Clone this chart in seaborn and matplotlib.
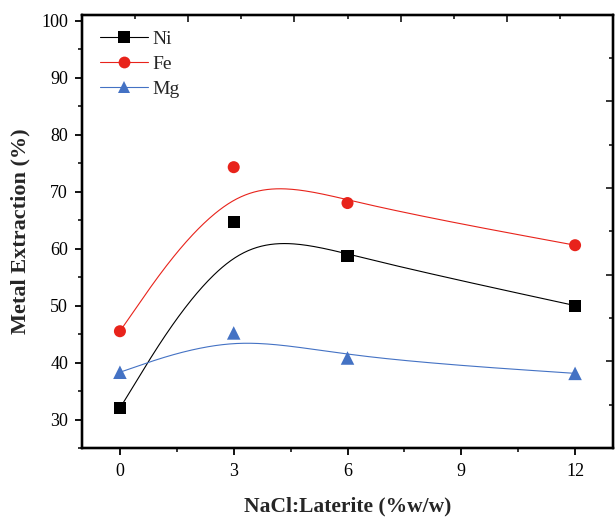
import numpy as np
import pandas as pd
import matplotlib
matplotlib.use("Agg")
import matplotlib.pyplot as plt
from matplotlib.ticker import MultipleLocator, NullFormatter
from matplotlib.lines import Line2D
import seaborn as sns

# ---- data ----
nacl = [0, 3, 6, 12]
ni = [32.0, 64.7, 58.7, 50.0]
fe = [45.5, 74.3, 68.0, 60.6]
mg = [38.3, 45.2, 40.8, 38.1]
series_names = ["Ni", "Fe", "Mg"]
colors = {"Ni": "#000000", "Fe": "#E8231B", "Mg": "#4472C4"}
markers = {"Ni": "s", "Fe": "o", "Mg": "^"}
x_ticks = [0, 3, 6, 9, 12]
y_ticks = [30, 40, 50, 60, 70, 80, 90, 100]

sns.set_theme(style="ticks")
plt.rcParams["font.family"] = ["Liberation Serif", "DejaVu Serif"]


def bspline_curve(xs, ys, n=80):
    """Uniform cubic B-spline with the data points as control points
    (end points tripled so the curve starts/ends on them)."""
    P = np.column_stack([xs, ys]).astype(float)
    ctrl = np.vstack([P[:1], P[:1], P, P[-1:], P[-1:]])
    t = np.linspace(0, 1, n)[:, None]
    b0 = (1 - t) ** 3 / 6
    b1 = (3 * t ** 3 - 6 * t ** 2 + 4) / 6
    b2 = (-3 * t ** 3 + 3 * t ** 2 + 3 * t + 1) / 6
    b3 = t ** 3 / 6
    segs = []
    for i in range(len(ctrl) - 3):
        seg = b0 * ctrl[i] + b1 * ctrl[i + 1] + b2 * ctrl[i + 2] + b3 * ctrl[i + 3]
        segs.append(seg if i == 0 else seg[1:])
    return np.vstack(segs)


fig = plt.figure(figsize=(6.15, 5.18), dpi=100)
ax = fig.add_axes([82 / 615, 1 - 448 / 518, 531 / 615, 433.5 / 518])

values = {"Ni": ni, "Fe": fe, "Mg": mg}
handles = []
for name in series_names:
    c = bspline_curve(nacl, values[name])
    curve = pd.DataFrame({"x": c[:, 0], "y": c[:, 1]})
    sns.lineplot(data=curve, x="x", y="y", sort=False, estimator=None,
                 color=colors[name], lw=0.8, ax=ax)
    pts = pd.DataFrame({"x": nacl, "y": values[name]})
    ms = 75 if name != "Mg" else 95
    sns.scatterplot(data=pts, x="x", y="y", marker=markers[name], s=ms,
                    color=colors[name], edgecolor="none", linewidth=0, ax=ax, zorder=5)
    handles.append(Line2D([0], [0], color=colors[name], lw=0.8, marker=markers[name],
                          markersize=8.5, markeredgewidth=0, label=name))

ax.set_xlim(-1, 13)
ax.set_ylim(25, 101.1)
ax.set_xticks(x_ticks)
ax.set_yticks(y_ticks)
ax.xaxis.set_minor_locator(MultipleLocator(1.5))
ax.yaxis.set_minor_locator(MultipleLocator(5))
ax.tick_params(which="major", direction="out", length=5, width=1.3, labelsize=13,
               colors="black", pad=5)
ax.tick_params(which="minor", direction="out", length=3, width=1.3)
ax.tick_params(axis="x", pad=6)
for s in ax.spines.values():
    s.set_linewidth(1.6)
    s.set_color("black")
    s.set_visible(True)

ax.set_xlabel("NaCl:Laterite (%w/w)", fontsize=15.5, fontweight="bold", labelpad=12)
ax.set_ylabel("Metal Extraction (%)", fontsize=16, fontweight="bold", labelpad=8)

# mirrored ticks on top and right (inward, independent spacing)
axt = ax.twiny()
axt.set_xlim(0, 5)
axt.xaxis.set_major_locator(MultipleLocator(1))
axt.xaxis.set_minor_locator(MultipleLocator(0.5))
axt.xaxis.set_major_formatter(NullFormatter())
axt.tick_params(axis="x", which="major", direction="in", length=5, width=1.3, top=True)
axt.tick_params(axis="x", which="minor", direction="in", length=3, width=1.3, top=True)
axr = ax.twinx()
axr.set_ylim(0, 5)
axr.yaxis.set_major_locator(MultipleLocator(1))
axr.yaxis.set_minor_locator(MultipleLocator(0.5))
axr.yaxis.set_major_formatter(NullFormatter())
axr.tick_params(axis="y", which="major", direction="in", length=5, width=1.3, right=True)
axr.tick_params(axis="y", which="minor", direction="in", length=3, width=1.3, right=True)
for a in (axt, axr):
    for s in a.spines.values():
        s.set_linewidth(1.6)
        s.set_color("black")

ax.legend(handles=handles, loc="upper left", bbox_to_anchor=(0.008, 0.995), frameon=False,
          fontsize=14, handlelength=2.5, handletextpad=0.2, labelspacing=0.38,
          borderaxespad=0.3)

fig.savefig("out.png", dpi=100)
